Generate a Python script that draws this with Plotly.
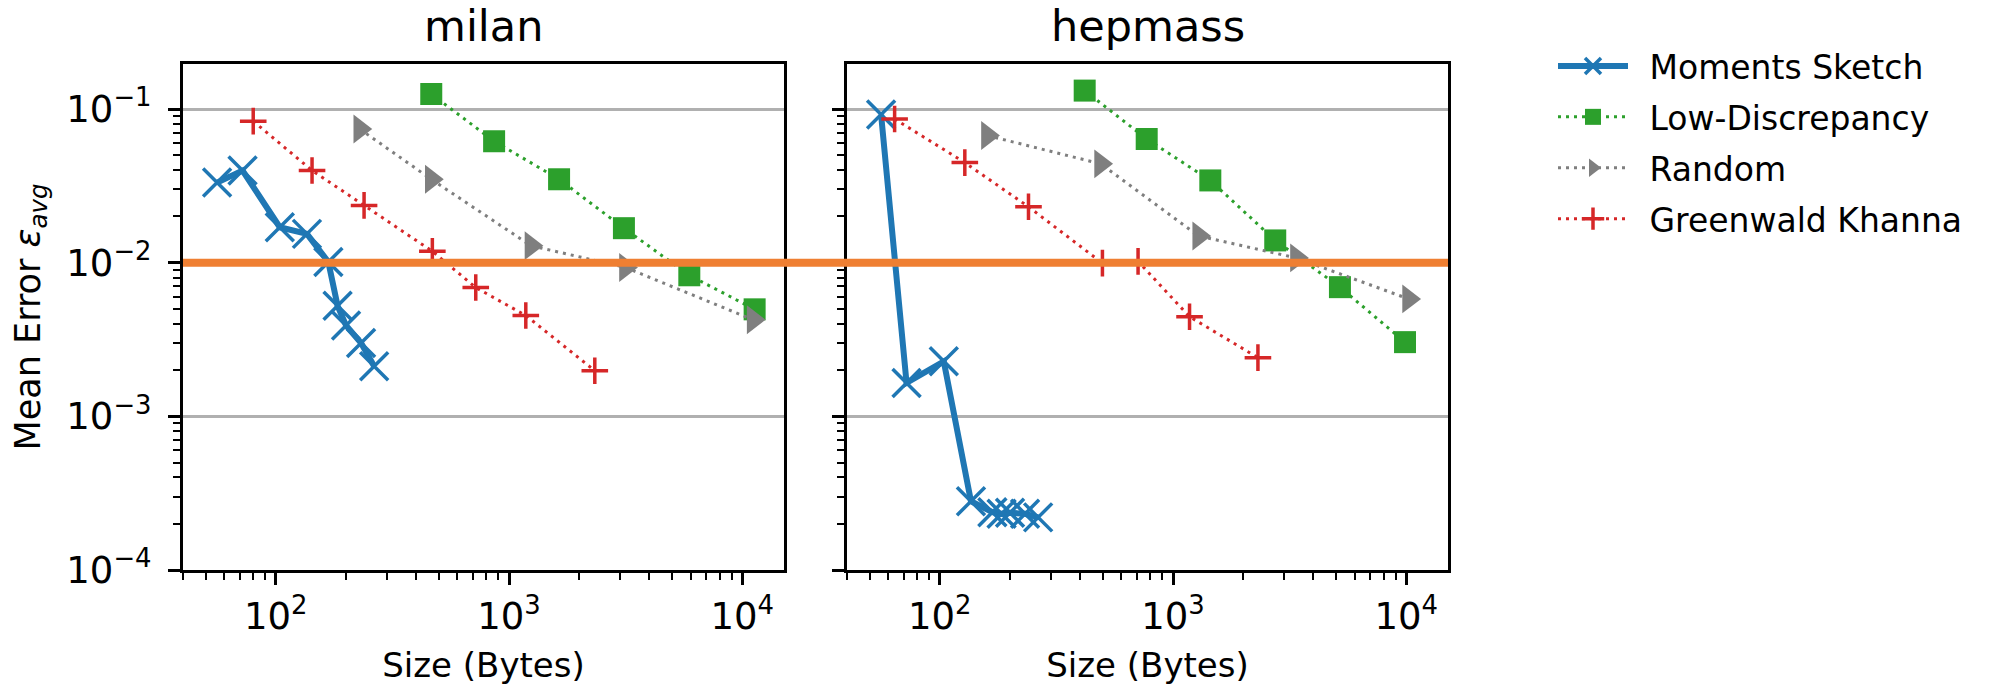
import plotly.graph_objects as go

# ---------------- data ----------------
series_names = ["Moments Sketch", "Low-Discrepancy", "Random", "Greenwald Khanna"]
panel_titles = ["milan", "hepmass"]

# milan
milan_ms_x = [56, 72, 104, 136, 168, 184, 200, 232, 264]
milan_ms_y = [0.0332, 0.0398, 0.0170, 0.0154, 0.0101, 0.00524, 0.0039, 0.0030, 0.00212]
milan_ld_x = [464, 863, 1639, 3109, 5929, 11300]
milan_ld_y = [0.1252, 0.0617, 0.0349, 0.01677, 0.00828, 0.00497]
milan_rd_x = [229, 464, 1241, 3155, 11130]
milan_rd_y = [0.0741, 0.0349, 0.0129, 0.00931, 0.00425]
milan_gk_x = [80, 143, 239, 469, 720, 1180, 2332]
milan_gk_y = [0.0834, 0.0398, 0.0236, 0.01186, 0.00689, 0.00453, 0.00198]

# hepmass
hep_ms_x = [56, 72, 104, 136, 168, 184, 200, 232, 264]
hep_ms_y = [0.092, 0.00165, 0.00228, 0.000280, 0.000238, 0.000232, 0.000236, 0.000232, 0.000220]
hep_ld_x = [418, 771, 1445, 2743, 5196, 9880]
hep_ld_y = [0.1318, 0.0638, 0.0343, 0.01396, 0.00693, 0.00304]
hep_rd_x = [160, 489, 1288, 3381, 10230]
hep_rd_y = [0.0672, 0.0440, 0.01492, 0.01074, 0.00581]
hep_gk_x = [64, 128, 240, 498, 708, 1177, 2312]
hep_gk_y = [0.0862, 0.0448, 0.0231, 0.00993, 0.0102, 0.00445, 0.00241]

threshold = 0.01

x_tickvals = [100, 1000, 10000]
x_ticktext = ["10<sup>2</sup>", "10<sup>3</sup>", "10<sup>4</sup>"]
y_tickvals = [1e-4, 1e-3, 1e-2, 1e-1]
y_ticktext = ["10<sup>\u22124</sup>", "10<sup>\u22123</sup>", "10<sup>\u22122</sup>", "10<sup>\u22121</sup>"]

# ---------------- styling ----------------
FONT = "DejaVu Sans"
FS = 34
TFS = 37
colors = ["#1f77b4", "#2ca02c", "#7f7f7f", "#d62728"]
DOT = "3px,5px"

styles = [
    dict(line=dict(color=colors[0], width=6),
         marker=dict(symbol="x-thin", size=28, color=colors[0], line=dict(color=colors[0], width=3.5))),
    dict(line=dict(color=colors[1], width=3, dash=DOT),
         marker=dict(symbol="square", size=22, color=colors[1], line=dict(width=0))),
    dict(line=dict(color=colors[2], width=3, dash=DOT),
         marker=dict(symbol="triangle-right", size=25, color=colors[2], line=dict(width=0))),
    dict(line=dict(color=colors[3], width=3, dash=DOT),
         marker=dict(symbol="cross-thin", size=19, color=colors[3], line=dict(color=colors[3], width=3.5))),
]

panels = [
    [(milan_ms_x, milan_ms_y), (milan_ld_x, milan_ld_y), (milan_rd_x, milan_rd_y), (milan_gk_x, milan_gk_y)],
    [(hep_ms_x, hep_ms_y), (hep_ld_x, hep_ld_y), (hep_rd_x, hep_rd_y), (hep_gk_x, hep_gk_y)],
]

fig = go.Figure()
for p, data in enumerate(panels):
    xa = "x" if p == 0 else "x2"
    ya = "y" if p == 0 else "y2"
    for i, (xs, ys) in enumerate(data):
        fig.add_trace(go.Scatter(
            x=xs, y=ys, mode="lines+markers", name="\u2002" + series_names[i],
            xaxis=xa, yaxis=ya, showlegend=(p == 0), legendgroup=series_names[i],
            line=styles[i]["line"], marker=styles[i]["marker"],
        ))

# geometry (pixels)
W, H = 2002, 685
L, R, T, B = 183, 2002 - 1448, 64, 685 - 570
pw = W - L - R
ph = H - T - B
d1 = [0, 601 / pw]
d2 = [664 / pw, 1]

minor_x = [m * 10 ** k for k in range(1, 5) for m in range(2, 10)]
minor_y = [m * 10 ** k for k in range(-5, 0) for m in range(2, 10)]

xcommon = dict(type="log", range=[1.602, 4.179], tickvals=x_tickvals, ticktext=x_ticktext,
               ticks="outside", ticklen=12, tickwidth=2.5, tickcolor="black",
               showline=True, linecolor="black", linewidth=3, mirror=True,
               showgrid=False, zeroline=False,
               tickfont=dict(family=FONT, size=TFS, color="black"),
               minor=dict(tickvals=minor_x, ticks="outside", ticklen=7, tickwidth=2,
                          tickcolor="black", showgrid=False),
               title=dict(text="Size (Bytes)", font=dict(family=FONT, size=FS, color="black"), standoff=16),
               automargin=False)
ycommon = dict(type="log", range=[-4, -0.707], tickvals=y_tickvals, ticktext=y_ticktext,
               ticks="outside", ticklen=12, tickwidth=2.5, tickcolor="black",
               showline=True, linecolor="black", linewidth=3, mirror=True,
               showgrid=True, gridcolor="#b0b0b0", gridwidth=2.5, zeroline=False,
               tickfont=dict(family=FONT, size=TFS, color="black"),
               minor=dict(tickvals=minor_y, ticks="outside", ticklen=7, tickwidth=2,
                          tickcolor="black", showgrid=False),
               automargin=False)

fig.update_layout(
    width=W, height=H,
    margin=dict(l=L, r=R, t=T, b=B, pad=0),
    paper_bgcolor="white", plot_bgcolor="white",
    font=dict(family=FONT, size=FS, color="black"),
    xaxis=dict(domain=d1, anchor="y", **xcommon),
    xaxis2=dict(domain=d2, anchor="y2", **xcommon),
    yaxis=dict(domain=[0, 1], anchor="x", ticklabelstandoff=9,
               title=dict(text="Mean Error <i>\u03b5</i><sub><i>avg</i></sub>",
                          font=dict(family=FONT, size=35, color="black"), standoff=16),
               **ycommon),
    yaxis2=dict(domain=[0, 1], anchor="x2", showticklabels=False, **ycommon),
    legend=dict(x=(1553 - L) / pw, y=1 + 26 / ph, xanchor="left", yanchor="top",
                font=dict(family=FONT, size=33, color="black"),
                itemwidth=70, tracegroupgap=5, bgcolor="rgba(0,0,0,0)"),
    showlegend=True,
)

fig.add_shape(type="line", xref="paper", yref="y", x0=0, x1=1, y0=threshold, y1=threshold,
              line=dict(color="#ef7f32", width=8), layer="above")

for p, title in enumerate(panel_titles):
    dom = d1 if p == 0 else d2
    fig.add_annotation(text=title, xref="paper", yref="paper", x=(dom[0] + dom[1]) / 2, y=1,
                       xanchor="center", yanchor="bottom", yshift=11, showarrow=False,
                       font=dict(family=FONT, size=43, color="black"))

fig.write_html("out.html")
